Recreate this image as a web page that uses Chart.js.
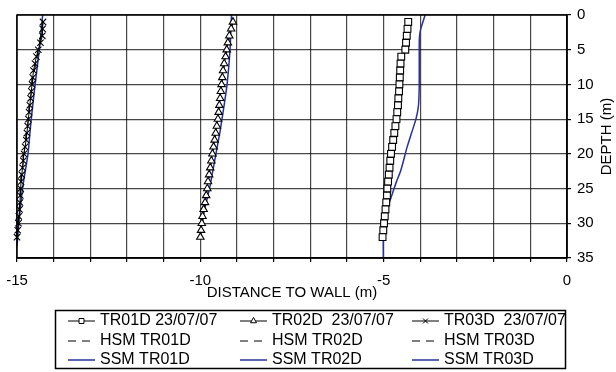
<!DOCTYPE html>
<html>
<head>
<meta charset="utf-8">
<script src="https://cdn.jsdelivr.net/npm/chart.js@4.4.1/dist/chart.umd.min.js"></script>
<style>
  body { margin: 0; background: #fff; }
  #wrap { width: 616px; height: 372px; }
</style>
</head>
<body>
<div id="wrap"><canvas id="wallChart"></canvas></div>
<script>
// inclinometer readings, depth in m below top of casing
const depthMeas = [1, 2, 3, 4, 5, 6, 7, 8, 9, 10, 11, 12, 13, 14, 15, 16,
                   17, 18, 19, 20, 21, 22, 23, 24, 25, 26, 27, 28, 29, 30, 31, 32];
const tr01d = [-4.33, -4.35, -4.37, -4.39, -4.41, -4.52, -4.54, -4.55, -4.56, -4.57, -4.58, -4.60, -4.61, -4.63, -4.65, -4.68,
               -4.71, -4.74, -4.77, -4.80, -4.82, -4.84, -4.86, -4.88, -4.90, -4.91, -4.93, -4.95, -4.97, -4.99, -5.01, -5.03];
const tr02d = [-9.11, -9.16, -9.21, -9.25, -9.28, -9.31, -9.35, -9.38, -9.40, -9.42, -9.44, -9.46, -9.48, -9.50, -9.52, -9.55,
               -9.58, -9.61, -9.64, -9.67, -9.70, -9.73, -9.76, -9.79, -9.81, -9.84, -9.87, -9.91, -9.94, -9.96, -9.98, -10.00];
const tr03d = [-14.29, -14.30, -14.31, -14.36, -14.42, -14.47, -14.51, -14.55, -14.57, -14.59, -14.61, -14.63, -14.65, -14.67, -14.69, -14.71,
               -14.73, -14.75, -14.78, -14.81, -14.83, -14.85, -14.87, -14.89, -14.90, -14.91, -14.92, -14.93, -14.95, -14.96, -14.98, -15.00];

// hardening soil model
const hsm01Depth = [1, 5, 6, 10, 15, 20, 25, 30, 32];
const hsm01Dist  = [-4.33, -4.41, -4.52, -4.57, -4.65, -4.80, -4.90, -4.99, -5.03];
const hsm02Depth = [1, 5, 10, 15, 20, 25, 32];
const hsm02Dist  = [-9.11, -9.28, -9.42, -9.52, -9.67, -9.81, -10.00];
const hsm03Depth = [1, 5, 10, 15, 20, 25, 32];
const hsm03Dist  = [-14.29, -14.42, -14.59, -14.69, -14.81, -14.90, -15.00];

// soft soil model
const ssm01Depth = [0, 1, 2, 3, 4, 10, 13, 15, 17, 19, 21, 22.5, 24, 26, 28, 30, 31, 35];
const ssm01Dist  = [-3.87, -3.93, -3.99, -4.02, -4.03, -4.03, -4.05, -4.12, -4.24, -4.36, -4.46, -4.54, -4.65, -4.78, -4.90, -4.98, -5.01, -5.01];
const ssm02Depth = [0, 5, 10, 13.3, 17, 21, 25, 28, 31.5];
const ssm02Dist  = [-9.15, -9.19, -9.27, -9.36, -9.47, -9.61, -9.75, -9.88, -10.00];
const ssm03Depth = [0, 4, 8, 12, 16, 20, 25, 30, 33.3];
const ssm03Dist  = [-14.30, -14.37, -14.46, -14.55, -14.63, -14.70, -14.85, -14.95, -15.00];

const xTicks = [-15, -10, -5, 0];

const FONT = "'Liberation Sans', Arial, sans-serif";
const BLUE = '#27319a';

function pts(dist, depth) {
    return dist.map(function (d, i) { return { x: d, y: depth[i] }; });
}

function measured(label, dist, style, r) {
    return {
        label: label, data: pts(dist, depthMeas), showLine: true,
        borderColor: '#000', borderWidth: 1,
        pointStyle: style, pointRadius: r, pointBorderWidth: 1.1,
        pointBackgroundColor: '#fff', pointBorderColor: '#000', clip: false
    };
}
function hsm(label, dist, depth) {
    return {
        label: label, data: pts(dist, depth), showLine: true,
        borderColor: '#000', borderWidth: 1, borderDash: [8, 6], pointRadius: 0
    };
}
function ssm(label, dist, depth) {
    return {
        label: label, data: pts(dist, depth), showLine: true, tension: 0.2,
        borderColor: BLUE, borderWidth: 1.5, pointRadius: 0
    };
}

// legend drawn as a 3 x 3 grid under the axis title
const gridLegend = {
    id: 'gridLegend',
    afterDraw(chart) {
        const ctx = chart.ctx;
        const area = chart.chartArea;
        ctx.save();

        // frame round the plot
        ctx.strokeStyle = '#000';
        ctx.lineWidth = 1.5;
        ctx.strokeRect(area.left, area.top, area.right - area.left, area.bottom - area.top);

        // y axis title, read bottom to top
        ctx.fillStyle = '#000';
        ctx.font = '15px ' + FONT;
        ctx.textAlign = 'center';
        ctx.textBaseline = 'middle';
        ctx.translate(607, (area.top + area.bottom) / 2);
        ctx.rotate(-Math.PI / 2);
        ctx.fillText('DEPTH (m)', 0, 0);
        ctx.setTransform(1, 0, 0, 1, 0, 0);

        ctx.lineWidth = 1.5;
        ctx.strokeRect(55.5, 310.5, 510, 58);

        const colX = [68, 240, 412];
        const rowY = [321, 341, 360];
        ctx.font = '16px ' + FONT;
        ctx.textAlign = 'left';
        chart.data.datasets.forEach(function (ds, i) {
            const x0 = colX[i % 3];
            const y = rowY[Math.floor(i / 3)];
            ctx.save();
            ctx.strokeStyle = ds.borderColor;
            ctx.lineWidth = ds.borderWidth;
            ctx.setLineDash(ds.borderDash || []);
            ctx.beginPath();
            ctx.moveTo(x0, y);
            ctx.lineTo(x0 + 27, y);
            ctx.stroke();
            ctx.setLineDash([]);
            if (ds.pointRadius > 0) {
                ctx.fillStyle = '#fff';
                ctx.strokeStyle = '#000';
                ctx.lineWidth = 1;
                Chart.helpers.drawPoint(ctx, { pointStyle: ds.pointStyle, radius: 3.5, borderWidth: 1, rotation: 0 }, x0 + 13.5, y);
            }
            ctx.restore();
            ctx.fillStyle = '#000';
            ctx.fillText(ds.label, x0 + 32, y);
        });
        ctx.restore();
    }
};

Chart.defaults.font.family = FONT;
Chart.defaults.font.size = 15;
Chart.defaults.color = '#000';

const gridColor = 'rgba(0,0,0,0.72)';

new Chart(document.getElementById('wallChart'), {
    type: 'scatter',
    data: {
        datasets: [
            measured('TR01D 23/07/07', tr01d, 'rect', 4.8),
            measured('TR02D  23/07/07', tr02d, 'triangle', 4.3),
            measured('TR03D  23/07/07', tr03d, 'crossRot', 4.5),
            hsm('HSM TR01D', hsm01Dist, hsm01Depth),
            hsm('HSM TR02D', hsm02Dist, hsm02Depth),
            hsm('HSM TR03D', hsm03Dist, hsm03Depth),
            ssm('SSM TR01D', ssm01Dist, ssm01Depth),
            ssm('SSM TR02D', ssm02Dist, ssm02Depth),
            ssm('SSM TR03D', ssm03Dist, ssm03Depth)
        ]
    },
    options: {
        responsive: true,
        maintainAspectRatio: false,
        animation: false,
        layout: { padding: { left: 17, top: 13, right: 0, bottom: 62 } },
        plugins: { legend: { display: false }, tooltip: { enabled: false } },
        scales: {
            x: {
                type: 'linear', position: 'bottom', min: -15, max: 0,
                ticks: {
                    stepSize: 1, autoSkip: false, maxRotation: 0, padding: 10,
                    callback: function (v) { return xTicks.includes(v) ? String(v) : ''; }
                },
                grid: { color: gridColor, lineWidth: 1.2, tickLength: 4, tickColor: '#000' },
                border: { color: '#000', width: 1.5 },
                title: { display: true, text: 'DISTANCE TO WALL (m)', padding: { top: 0, bottom: 8 } },
                afterFit: function (s) { s.height = 52; s.paddingLeft = 0; s.paddingRight = 0; }
            },
            y: {
                type: 'linear', position: 'right', reverse: true, min: 0, max: 35,
                ticks: { stepSize: 5, padding: 6 },
                grid: { color: gridColor, lineWidth: 1.2, tickLength: 4, tickColor: '#000' },
                border: { color: '#000', width: 1.5 },
                afterFit: function (s) { s.width = 49; }
            }
        }
    },
    plugins: [gridLegend]
});
</script>
</body>
</html>
